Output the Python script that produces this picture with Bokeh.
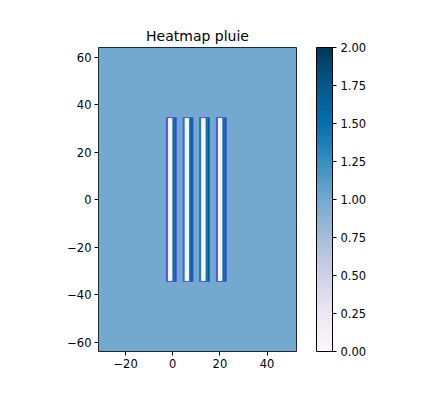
import numpy as np
from bokeh.plotting import figure
from bokeh.models import (ColumnDataSource, LinearColorMapper, ColorBar,
                          FixedTicker, PrintfTickFormatter)
from bokeh.palettes import PuBu9
from bokeh.transform import transform
from bokeh.embed import file_html
from bokeh.resources import INLINE

# ---- data ----
grid_x = [-31.5, 52.5]
grid_y = [-64.0, 64.0]
base_value = 1.0
stripe_left = [-2.7, 4.4, 11.4, 18.5]
stripe_bottom = -34.5
stripe_top = 34.5
band_edges = [0.0, 0.7, 2.6, 3.4, 4.2]       # offsets inside one stripe
band_values = [1.35, 0.06, 1.5, 1.7]
x_ticks = [-20, 0, 20, 40]
y_ticks = [-60, -40, -20, 0, 20, 40, 60]
cbar_ticks = [0.0, 0.25, 0.5, 0.75, 1.0, 1.25, 1.5, 1.75, 2.0]
vmin, vmax = 0.0, 2.0

# ---- colour map (matplotlib PuBu, light -> dark) ----
base = [c for c in PuBu9[::-1]]
def h2rgb(h):
    return np.array([int(h[i:i + 2], 16) for i in (1, 3, 5)], float)
rgb = np.array([h2rgb(c) for c in base])
pos = np.linspace(0, 1, len(base))
t = np.linspace(0, 1, 256)
palette = ["#%02x%02x%02x" % tuple(int(round(np.interp(tt, pos, rgb[:, k]))) for k in range(3)) for tt in t]
mapper = LinearColorMapper(palette=palette, low=vmin, high=vmax)

# ---- sources ----
bg = ColumnDataSource(dict(left=[grid_x[0]], right=[grid_x[1]],
                           bottom=[grid_y[0]], top=[grid_y[1]], v=[base_value]))
L, R, B, T, V = [], [], [], [], []
for s in stripe_left:
    for i, val in enumerate(band_values):
        L.append(s + band_edges[i]); R.append(s + band_edges[i + 1])
        B.append(stripe_bottom); T.append(stripe_top); V.append(val)
bands = ColumnDataSource(dict(left=L, right=R, bottom=B, top=T, v=V))
outl = ColumnDataSource(dict(left=[s for s in stripe_left],
                             right=[s + band_edges[-1] for s in stripe_left],
                             bottom=[stripe_bottom] * len(stripe_left),
                             top=[stripe_top] * len(stripe_left)))

p = figure(output_backend="svg", toolbar_location=None,
           frame_width=198, frame_height=304,
           min_border_left=98, min_border_top=47, min_border_bottom=43,
           min_border_right=133,
           x_range=(grid_x[0], grid_x[1]), y_range=(grid_y[0], grid_y[1]),
           title="Heatmap pluie")
p.title.align = "center"
p.title.text_font = "DejaVu Sans"
p.title.text_font_size = "14px"
p.title.text_font_style = "normal"
p.title.text_color = "#000000"
p.title.standoff = 7

p.quad(left="left", right="right", bottom="bottom", top="top", source=bg,
       fill_color=transform("v", mapper), line_color=None)
p.quad(left="left", right="right", bottom="bottom", top="top", source=bands,
       fill_color=transform("v", mapper), line_color=None)
p.quad(left="left", right="right", bottom="bottom", top="top", source=outl,
       fill_color=None, line_color="#5050f0", line_width=1)

p.grid.visible = False
p.outline_line_color = "#000000"
p.outline_line_width = 1
p.background_fill_color = "white"
for ax, ticks in ((p.xaxis, x_ticks), (p.yaxis, y_ticks)):
    ax.ticker = FixedTicker(ticks=ticks)
    ax.minor_tick_line_color = None
    ax.major_tick_in = 0
    ax.major_tick_out = 4
    ax.major_tick_line_color = "#000000"
    ax.axis_line_color = None
    ax.major_label_text_font = "DejaVu Sans"
    ax.major_label_text_font_size = "11.5px"
    ax.major_label_text_color = "#000000"
    ax.major_label_standoff = 3
p.xaxis.major_label_overrides = {v: str(v).replace("-", "\u2212") for v in x_ticks}
p.yaxis.major_label_overrides = {v: str(v).replace("-", "\u2212") for v in y_ticks}

cb = ColorBar(color_mapper=mapper, ticker=FixedTicker(ticks=cbar_ticks),
              formatter=PrintfTickFormatter(format="%.2f"),
              width=16, height=304, margin=0, padding=0,
              location=(20, 0),
              bar_line_color="#000000", bar_line_width=1,
              major_tick_in=0, major_tick_out=4, major_tick_line_color="#000000",
              minor_tick_line_color=None,
              major_label_text_font="DejaVu Sans",
              major_label_text_font_size="11.5px",
              major_label_text_color="#000000",
              label_standoff=4, background_fill_alpha=0,
              border_line_color=None)
p.add_layout(cb, "right")

open("out.html", "w").write(file_html(p, INLINE))
